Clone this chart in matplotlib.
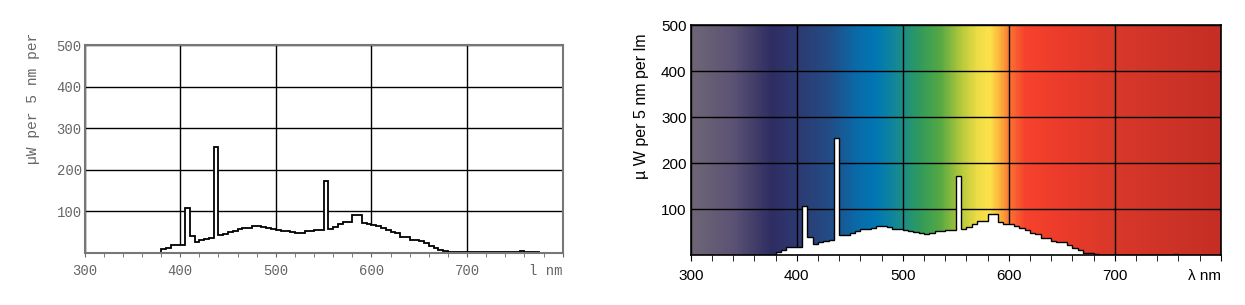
import numpy as np
import matplotlib
matplotlib.use("Agg")
import matplotlib.pyplot as plt
from matplotlib.colors import LinearSegmentedColormap
from matplotlib.ticker import MultipleLocator

# 5 nm bins, first edge at 380 nm
bin_start = 380
bin_width = 5
power = [8, 12, 19, 19, 19, 108, 40, 25, 29, 32,
         34, 254, 43, 44, 49, 53, 56, 58, 60, 63,
         63, 61, 58, 56, 54, 52, 51, 49, 47, 48,
         52, 52, 54, 54, 173, 56, 62, 69, 74, 74,
         90, 90, 72, 69, 67, 64, 60, 54, 49, 46,
         38, 38, 31, 29, 28, 23, 16, 11, 6, 4,
         2, 1, 0.5, 0.5, 0.5, 0.5, 0.5, 0.5, 0.5, 0.5,
         0.5, 0.5, 0.5, 0.5, 0.5, 3, 0.5, 0.5, 0.5]
edges = bin_start + bin_width * np.arange(len(power) + 1)

xticks = [300, 400, 500, 600, 700, 800]
yticks = [100, 200, 300, 400, 500]

# background spectrum colours
spec_wl = [300, 340, 375, 400, 430, 455, 475, 495, 515, 535, 555, 570,
           582, 592, 602, 615, 650, 700, 800]
spec_col = ['#6e6677', '#5a5273', '#2f2d62', '#2d3a72', '#234c85', '#0a6aa8',
            '#0078b4', '#168a93', '#2f9a5e', '#55a843', '#b5c93c', '#ecdc45',
            '#fde24a', '#fbb23c', '#fa6e33', '#f7432d', '#ec3b2b', '#d8382a',
            '#c52e24']

fig = plt.figure(figsize=(12.45, 3.05), dpi=100)

# ---- left panel (plain) ----
ax1 = fig.add_axes([0.0679, 0.1721, 0.3841, 0.6803])
mono = 'Liberation Mono'
gray = '#666666'
ax1.set_axisbelow(True)
ax1.stairs(power, edges, fill=True, color='white', zorder=1)
ax1.stairs(power, edges, color='black', linewidth=1.3, zorder=2)
ax1.set_xlim(300, 800)
ax1.set_ylim(0, 500)
ax1.set_xticks(xticks)
ax1.set_xticklabels(['300', '400', '500', '600', '700', 'l nm'],
                    family=mono, color=gray, fontsize=10)
ax1.get_xticklabels()[-1].set_ha('right')
ax1.xaxis.set_minor_locator(MultipleLocator(20))
ax1.set_yticks(yticks)
ax1.set_yticklabels([str(v) for v in yticks], family=mono, color=gray, fontsize=10)
ax1.tick_params(axis='x', which='both', direction='out', length=3, color=gray, pad=5)
ax1.tick_params(axis='y', length=0, pad=2)
ax1.grid(True, which='major', color='black', linewidth=1)
for s in ax1.spines.values():
    s.set_color('#777777')
    s.set_linewidth(1.5)
fig.text(33 / 1245, 1 - 98 / 305, 'µW per 5 nm per', rotation=90,
         family=mono, color=gray, fontsize=10.5, ha='center', va='center')

# ---- right panel (spectrum background) ----
ax2 = fig.add_axes([0.5548, 0.163, 0.4257, 0.755])
pos = [(w - 300) / 500 for w in spec_wl]
cmap = LinearSegmentedColormap.from_list('spec', list(zip(pos, spec_col)))
grad = np.linspace(0, 1, 600)[np.newaxis, :]
ax2.imshow(grad, extent=[300, 800, 0, 500], aspect='auto', cmap=cmap, zorder=0)
ax2.set_axisbelow(True)
ax2.stairs(power, edges, fill=True, color='white', zorder=1)
ax2.stairs(power, edges, color='black', linewidth=1.0, zorder=2)
ax2.set_xlim(300, 800)
ax2.set_ylim(0, 500)
sans = 'Liberation Sans'
ax2.set_xticks(xticks)
ax2.set_xticklabels(['300', '400', '500', '600', '700', 'λ nm'],
                    family=sans, fontsize=11)
ax2.get_xticklabels()[-1].set_ha('right')
ax2.xaxis.set_minor_locator(MultipleLocator(20))
ax2.set_yticks(yticks)
ax2.set_yticklabels([str(v) for v in yticks], family=sans, fontsize=11)
ax2.tick_params(axis='x', which='both', direction='out', length=4, color='black', pad=6)
ax2.tick_params(axis='y', length=0, pad=3)
ax2.grid(True, which='major', color='black', linewidth=1)
for s in ax2.spines.values():
    s.set_color('black')
    s.set_linewidth(1.2)
fig.text(641 / 1245, 1 - 106 / 305, 'µ W per 5 nm per lm', rotation=90,
         family=sans, fontsize=11.5, ha='center', va='center')

fig.savefig('out.png', dpi=100)
